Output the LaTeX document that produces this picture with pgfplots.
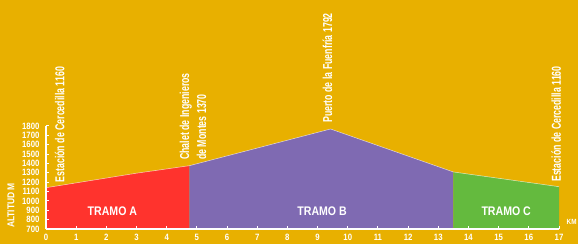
\documentclass[border=0pt]{standalone}
\usepackage{pgfplots}
\pgfplotsset{compat=1.18}
\usepackage{fontspec}
\setmainfont{Liberation Sans}
\newfontfamily\stfont[FakeStretch=0.68]{Liberation Sans}
\newfontfamily\bfont[FakeStretch=0.85]{Liberation Sans}
\definecolor{bg}{RGB}{232,176,0}
\definecolor{tramoA}{RGB}{255,51,45}
\definecolor{tramoB}{RGB}{127,106,178}
\definecolor{tramoC}{RGB}{100,186,62}
\begin{document}
\begin{tikzpicture}
\useasboundingbox (0,0) rectangle (578bp,244bp);
\fill[bg] (0,0) rectangle (578bp,244bp);
\begin{axis}[
  at={(46bp,15bp)}, anchor=south west,
  scale only axis, width=513bp, height=103bp,
  xmin=0, xmax=17, ymin=700, ymax=1800,
  axis lines=left,
  axis line style={-, white, line width=1.5bp},
  xtick={0,1,...,17}, ytick={700,800,...,1800},
  tick style={white, line width=1bp},
  major tick length=3bp, tick align=inside,
  ticklabel style={text=white, font=\bfont\bfseries\fontsize{9.2}{9.2}\selectfont},
  yticklabel style={xshift=-3bp},
  xticklabel style={yshift=-1.5bp},
  /pgf/number format/assume math mode=true,
  /pgf/number format/1000 sep={},
  clip=false, axis on top,
]
\addplot[draw=none, fill=tramoA] coordinates {(0,700)(0,1141)(3,1296)(4.75,1376)(4.75,700)} -- cycle;
\addplot[draw=none, fill=tramoB] coordinates {(4.75,700)(4.75,1376)(9.43,1768)(13.5,1309)(13.5,700)} -- cycle;
\addplot[draw=none, fill=tramoC] coordinates {(13.5,700)(13.5,1309)(17,1152)(17,700)} -- cycle;
\addplot[white, opacity=0.7, line width=0.5bp] coordinates {(0,1141)(3,1296)(4.75,1376)(9.43,1768)(13.5,1309)(17,1152)};

\node[rotate=90, anchor=west, inner sep=0pt, text=white, font=\stfont\bfseries\fontsize{13}{13}\selectfont] at (axis cs:0.45,1195) {Estación de Cercedilla 1160};
\node[rotate=90, anchor=west, inner sep=0pt, text=white, align=left, font=\stfont\bfseries\fontsize{13}{17}\selectfont] at (axis cs:4.87,1437) {Chalet de Ingenieros\\de Montes 1370};
\node[rotate=90, anchor=west, inner sep=0pt, text=white, font=\stfont\bfseries\fontsize{13}{13}\selectfont] at (axis cs:9.33,1832) {Puerto de la Fuenfría 1792};
\node[rotate=90, anchor=west, inner sep=0pt, text=white, font=\stfont\bfseries\fontsize{13}{13}\selectfont] at (axis cs:16.91,1202) {Estación de Cercedilla 1160};

\node[text=white, font=\bfont\bfseries\fontsize{12.5}{12.5}\selectfont] at (axis cs:2.2,895) {TRAMO A};
\node[text=white, font=\bfont\bfseries\fontsize{12.5}{12.5}\selectfont] at (axis cs:9.15,895) {TRAMO B};
\node[text=white, font=\bfont\bfseries\fontsize{12.5}{12.5}\selectfont] at (axis cs:15.25,895) {TRAMO C};

\node[rotate=90, text=white, font=\bfont\bfseries\fontsize{10}{10}\selectfont] at (axis cs:-1.16,951) {ALTITUD M};
\node[text=white, font=\bfont\bfseries\fontsize{7.5}{7.5}\selectfont] at (axis cs:17.42,775) {KM};
\end{axis}
\end{tikzpicture}
\end{document}
